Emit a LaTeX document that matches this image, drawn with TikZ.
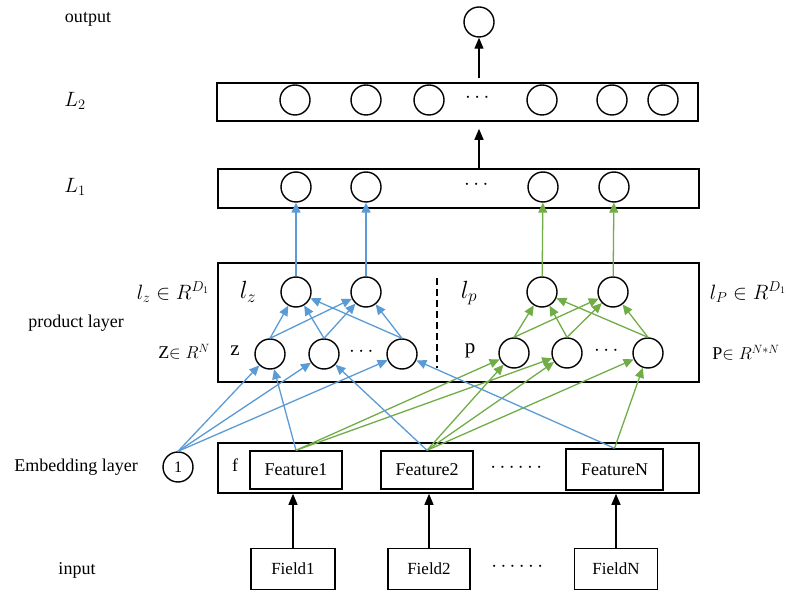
\documentclass[tikz,border=0pt]{standalone}
\usepackage{fontspec}
\setmainfont{Liberation Serif}
\usepackage{amsmath}
\usepackage{amssymb}
\usetikzlibrary{arrows.meta,calc}

\definecolor{zblue}{RGB}{91,155,213}
\definecolor{pgreen}{RGB}{112,173,71}

\begin{document}
\begin{tikzpicture}[x=1pt,y=-1pt,
  every node/.style={font=\fontsize{18}{21}\selectfont},
  unit/.style={draw,circle,line width=1.4pt,minimum size=30pt,inner sep=0pt},
  layer/.style={draw,line width=1.6pt,minimum width=481pt,inner sep=0pt},
  featbox/.style={draw,line width=1.4pt,minimum width=92pt,minimum height=38pt,inner sep=0pt},
  fieldbox/.style={draw,line width=1.4pt,minimum width=84pt,minimum height=41pt,inner sep=0pt,font=\fontsize{17}{20}\selectfont},
  mathlbl/.style={font=\fontsize{20}{24}\selectfont},
  big/.style={font=\fontsize{26}{30}\selectfont},
  zline/.style={zblue,line width=1.3pt,-{Triangle[length=10pt,width=9pt]}},
  pline/.style={pgreen,line width=1.3pt,-{Triangle[length=10pt,width=9pt]}},
  up/.style={line width=1.3pt,-{Triangle[length=11pt,width=9pt]}}]
  \useasboundingbox (0,0) rectangle (800,609);

  \node[layer,minimum height=38pt] (L2) at (457.5,102) {};
  \node[layer,minimum height=39pt] (L1) at (458.5,188.5) {};
  \node[layer,minimum height=119pt] (prod) at (458.5,322.5) {};
  \node[layer,minimum height=50pt] (emb) at (458.5,468) {};

  \node (outlbl) at (88,19) {output};
  \node[mathlbl] (l2lbl) at (75,101) {$L_2$};
  \node[mathlbl] (l1lbl) at (75,187) {$L_1$};
  \node[mathlbl] (lzlbl) at (173,292) {$l_z\in R^{D_1}$};
  \node (prodlbl) at (76,323) {product layer};
  \node (zlbl) at (184,352) {Z$\in R^N$};
  \node[mathlbl] (lplbl) at (748,292) {$l_P\in R^{D_1}$};
  \node (plbl) at (746,353) {P$\in R^{N*N}$};
  \node (emblbl) at (76,467) {Embedding layer};
  \node (inlbl) at (77,570) {input};

  \node[unit] (out) at (479,22) {};

  \node[unit] (l2a) at (295,100) {};
  \node[unit] (l2b) at (366,100) {};
  \node[unit] (l2c) at (429,100) {};
  \node[mathlbl] (l2dots) at (479,98) {$\cdots$};
  \node[unit] (l2d) at (542,100) {};
  \node[unit] (l2e) at (612,100) {};
  \node[unit] (l2f) at (663,100) {};

  \node[unit] (l1a) at (296,187) {};
  \node[unit] (l1b) at (366,187) {};
  \node[mathlbl] (l1dots) at (478,185) {$\cdots$};
  \node[unit] (l1c) at (543,187) {};
  \node[unit] (l1d) at (614,187) {};

  \node[big] (lzin) at (248,292) {$l_z$};
  \node[unit] (lz1) at (296,292) {};
  \node[unit] (lz2) at (366,292) {};
  \node[big] (lpin) at (469,293) {$l_p$};
  \node[unit] (lp1) at (542,292) {};
  \node[unit] (lp2) at (613,292) {};
  \draw[line width=1.6pt,dash pattern=on 7pt off 4pt] (437,278) -- (437,368);

  \node[font=\fontsize{21}{24}\selectfont] (zin) at (235,351) {z};
  \node[unit] (z1) at (270,354) {};
  \node[unit] (z2) at (324,354) {};
  \node[mathlbl] (zdots) at (363,352) {$\cdots$};
  \node[unit] (zn) at (402,354) {};
  \node[font=\fontsize{21}{24}\selectfont] (pin) at (470,351) {p};
  \node[unit] (p1) at (514,353) {};
  \node[unit] (p2) at (567,353) {};
  \node[mathlbl] (pdots) at (608,351) {$\cdots$};
  \node[unit] (pn) at (648,353) {};

  \node[unit,font=\fontsize{16}{18}\selectfont] (one) at (178,467) {1};
  \node (fin) at (235,465) {f};
  \node[featbox] (feat1) at (296,470) {Feature1};
  \node[featbox] (feat2) at (427,470) {Feature2};
  \node[mathlbl] (featdots) at (518,468) {$\cdots\cdots$};
  \node[featbox,minimum width=97pt,minimum height=41pt] (featn) at (614.5,469.5) {FeatureN};

  \node[fieldbox] (field1) at (293,569) {Field1};
  \node[fieldbox,minimum width=82pt] (field2) at (429,569) {Field2};
  \node[mathlbl] (fielddots) at (519,567) {$\cdots\cdots$};
  \node[fieldbox,minimum width=83pt] (fieldn) at (616,569) {FieldN};

  \draw[up] ($(L2.north -| out)+(0,-4)$) -- (out);
  \draw[up] (L1.north -| out) -- ($(L2.south -| out)+(0,7)$);
  \draw[up] (field1) -- (field1 |- emb.south);
  \draw[up] (field2) -- (field2 |- emb.south);
  \draw[up] (fieldn) -- (fieldn |- emb.south);

  \draw[zline] (lz1) -- (l1a);
  \draw[zline] (lz2) -- (l1b);
  \draw[pline] (lp1) -- (l1c);
  \draw[pline] (lp2) -- (l1d);

  \draw[zline] (z1.north) -- (lz1);
  \draw[zline] (z1.north) -- (lz2);
  \draw[zline] (z2.north) -- (lz1);
  \draw[zline] (z2.north) -- (lz2);
  \draw[zline] (zn.north) -- (lz1);
  \draw[zline] (zn.north) -- (lz2);
  \draw[pline] (p1.north) -- (lp1);
  \draw[pline] (p1.north) -- (lp2);
  \draw[pline] (p2.north) -- (lp1);
  \draw[pline] (p2.north) -- (lp2);
  \draw[pline] (pn.north) -- (lp1);
  \draw[pline] (pn.north) -- (lp2);

  \draw[pline] (feat1.north) -- (p1);
  \draw[pline] (feat1.north) -- (p2);
  \draw[pline] (feat2.north) -- (p1);
  \draw[pline] (feat2.north) -- (p2);
  \draw[pline] (feat2.north) -- (pn);
  \draw[pline] (featn.north) -- (pn);

  \draw[zline] (one.north) -- (z1);
  \draw[zline] (one.north) -- (z2);
  \draw[zline] (one.north) -- (zn);
  \draw[zline] (feat1.north) -- (z1);
  \draw[zline] (feat2.north) -- (z2);
  \draw[zline] (featn.north) -- (zn);
\end{tikzpicture}
\end{document}
